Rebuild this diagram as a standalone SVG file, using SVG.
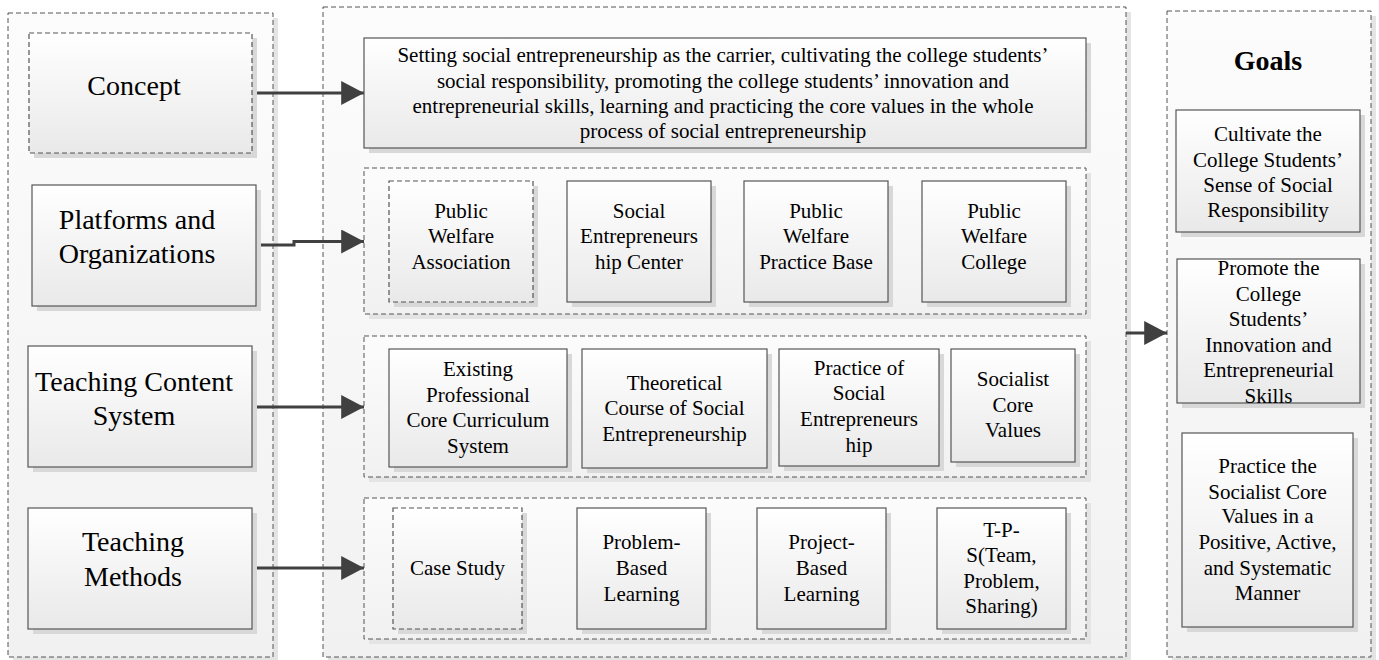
<svg xmlns="http://www.w3.org/2000/svg" width="1379" height="660" viewBox="0 0 1379 660">
<defs>
<linearGradient id="gBox" x1="0" y1="0" x2="0" y2="1">
<stop offset="0" stop-color="#ffffff"/>
<stop offset="1" stop-color="#e9e9e9"/>
</linearGradient>
<linearGradient id="gCont" x1="0" y1="0" x2="0" y2="1">
<stop offset="0" stop-color="#fcfcfc"/>
<stop offset="1" stop-color="#f1f1f1"/>
</linearGradient>
<marker id="ah" markerWidth="8" markerHeight="8" refX="7.6" refY="4" orient="auto" markerUnits="strokeWidth">
<path d="M0,0 L7.6,4 L0,8 Z" fill="#404040"/>
</marker>
</defs>
<style>
.cont{fill:url(#gCont);stroke:#555;stroke-width:1;stroke-dasharray:5 3}
.box{fill:url(#gBox);stroke:#555;stroke-width:1.2}
.dbox{fill:url(#gBox);stroke:#555;stroke-width:1.2;stroke-dasharray:5 3}
.sh{fill:#d8d8d8}
.csh{fill:#e4e4e4}
text{font-family:"Liberation Serif","Times New Roman",serif;fill:#000;text-anchor:middle}
.big{font-size:28px}
.sm{font-size:21px}
.bold{font-weight:bold}
.conn{fill:none;stroke:#404040;stroke-width:3;marker-end:url(#ah)}
</style>
<rect width="1379" height="660" fill="#ffffff"/>

<g id="containers">
<rect class="csh" x="13" y="18" width="265" height="644"/>
<rect class="cont" x="8" y="13" width="265" height="644"/>
<rect class="csh" x="328" y="12" width="803" height="650"/>
<rect class="cont" x="323" y="7" width="803" height="650"/>
<rect class="csh" x="1172" y="16" width="204" height="646"/>
<rect class="cont" x="1167" y="11" width="204" height="646"/>
<rect class="csh" x="369" y="173" width="722" height="146"/>
<rect class="cont" x="364" y="168" width="722" height="146"/>
<rect class="csh" x="369" y="341" width="722" height="141"/>
<rect class="cont" x="364" y="336" width="722" height="141"/>
<rect class="csh" x="369" y="503" width="722" height="141"/>
<rect class="cont" x="364" y="498" width="722" height="141"/>
</g>

<g id="connectors">
<path class="conn" d="M252,93 L364,93"/>
<path class="conn" d="M256,245 L294,245 L294,241.5 L364,241.5"/>
<path class="conn" d="M252,407 L364,407"/>
<path class="conn" d="M252,568 L364,568"/>
<path class="conn" d="M1126,333 L1167,333"/>
</g>

<g id="concept">
<rect class="sh" x="34" y="38" width="223" height="120"/>
<rect class="dbox" x="29" y="33" width="223" height="120"/>
<text class="big" x="134" y="95">Concept</text>
</g>
<g id="platforms">
<rect class="sh" x="37" y="190" width="224" height="121"/>
<rect class="box" x="32" y="185" width="224" height="121"/>
<text class="big" x="137" y="229">Platforms and</text>
<text class="big" x="137" y="263">Organizations</text>
</g>
<g id="teaching-content">
<rect class="sh" x="33" y="351" width="224" height="121"/>
<rect class="box" x="28" y="346" width="224" height="121"/>
<text class="big" x="134" y="391">Teaching Content</text>
<text class="big" x="134" y="425">System</text>
</g>
<g id="teaching-methods">
<rect class="sh" x="33" y="513" width="224" height="121"/>
<rect class="box" x="28" y="508" width="224" height="121"/>
<text class="big" x="133" y="551">Teaching</text>
<text class="big" x="133" y="586">Methods</text>
</g>

<g id="concept-text">
<rect class="sh" x="369" y="43" width="722" height="110"/>
<rect class="box" x="364" y="38" width="722" height="110"/>
<text class="sm" x="723" y="62">Setting social entrepreneurship as the carrier, cultivating the college students’</text>
<text class="sm" x="723" y="88">social responsibility, promoting the college students’ innovation and</text>
<text class="sm" x="723" y="113">entrepreneurial skills, learning and practicing the core values in the whole</text>
<text class="sm" x="723" y="138">process of social entrepreneurship</text>
</g>

<g id="public-welfare-association">
<rect class="sh" x="394" y="186" width="144" height="121"/>
<rect class="dbox" x="389" y="181" width="144" height="121"/>
<text class="sm" x="461" y="218">Public</text>
<text class="sm" x="461" y="243">Welfare</text>
<text class="sm" x="461" y="269">Association</text>
</g>
<g id="social-entrepreneurship-center">
<rect class="sh" x="572" y="186" width="144" height="121"/>
<rect class="box" x="567" y="181" width="144" height="121"/>
<text class="sm" x="639" y="218">Social</text>
<text class="sm" x="639" y="243">Entrepreneurs</text>
<text class="sm" x="639" y="269">hip Center</text>
</g>
<g id="public-welfare-practice-base">
<rect class="sh" x="749" y="186" width="144" height="121"/>
<rect class="box" x="744" y="181" width="144" height="121"/>
<text class="sm" x="816" y="218">Public</text>
<text class="sm" x="816" y="243">Welfare</text>
<text class="sm" x="816" y="269">Practice Base</text>
</g>
<g id="public-welfare-college">
<rect class="sh" x="927" y="186" width="144" height="121"/>
<rect class="box" x="922" y="181" width="144" height="121"/>
<text class="sm" x="994" y="218">Public</text>
<text class="sm" x="994" y="243">Welfare</text>
<text class="sm" x="994" y="269">College</text>
</g>

<g id="existing-curriculum">
<rect class="sh" x="394" y="354" width="178" height="118"/>
<rect class="box" x="389" y="349" width="178" height="118"/>
<text class="sm" x="478" y="376">Existing</text>
<text class="sm" x="478" y="402">Professional</text>
<text class="sm" x="478" y="427">Core Curriculum</text>
<text class="sm" x="478" y="453">System</text>
</g>
<g id="theoretical-course">
<rect class="sh" x="587" y="354" width="185" height="119"/>
<rect class="box" x="582" y="349" width="185" height="119"/>
<text class="sm" x="674.5" y="390">Theoretical</text>
<text class="sm" x="674.5" y="415">Course of Social</text>
<text class="sm" x="674.5" y="441">Entrepreneurship</text>
</g>
<g id="practice-social-entrepreneurship">
<rect class="sh" x="784" y="354" width="160" height="117"/>
<rect class="box" x="779" y="349" width="160" height="117"/>
<text class="sm" x="859" y="375">Practice of</text>
<text class="sm" x="859" y="400">Social</text>
<text class="sm" x="859" y="426">Entrepreneurs</text>
<text class="sm" x="859" y="452">hip</text>
</g>
<g id="socialist-core-values">
<rect class="sh" x="956" y="354" width="124" height="113"/>
<rect class="box" x="951" y="349" width="124" height="113"/>
<text class="sm" x="1013" y="386">Socialist</text>
<text class="sm" x="1013" y="412">Core</text>
<text class="sm" x="1013" y="437">Values</text>
</g>

<g id="case-study">
<rect class="sh" x="398" y="513" width="129" height="121"/>
<rect class="dbox" x="393" y="508" width="129" height="121"/>
<text class="sm" x="457.5" y="575">Case Study</text>
</g>
<g id="problem-based-learning">
<rect class="sh" x="582" y="513" width="129" height="121"/>
<rect class="box" x="577" y="508" width="129" height="121"/>
<text class="sm" x="641.5" y="549">Problem-</text>
<text class="sm" x="641.5" y="575">Based</text>
<text class="sm" x="641.5" y="601">Learning</text>
</g>
<g id="project-based-learning">
<rect class="sh" x="762" y="513" width="129" height="121"/>
<rect class="box" x="757" y="508" width="129" height="121"/>
<text class="sm" x="821.5" y="549">Project-</text>
<text class="sm" x="821.5" y="575">Based</text>
<text class="sm" x="821.5" y="601">Learning</text>
</g>
<g id="tps">
<rect class="sh" x="942" y="513" width="129" height="121"/>
<rect class="box" x="937" y="508" width="129" height="121"/>
<text class="sm" x="1001.5" y="537">T-P-</text>
<text class="sm" x="1001.5" y="562">S(Team,</text>
<text class="sm" x="1001.5" y="588">Problem,</text>
<text class="sm" x="1001.5" y="613">Sharing)</text>
</g>

<g id="goals-title">
<text class="big bold" x="1268" y="70">Goals</text>
</g>
<g id="goal-responsibility">
<rect class="sh" x="1181" y="115" width="184" height="122"/>
<rect class="box" x="1176" y="110" width="184" height="122"/>
<text class="sm" x="1268" y="141">Cultivate the</text>
<text class="sm" x="1268" y="167">College Students’</text>
<text class="sm" x="1268" y="192">Sense of Social</text>
<text class="sm" x="1268" y="217">Responsibility</text>
</g>
<g id="goal-innovation">
<rect class="sh" x="1182" y="264" width="183" height="144"/>
<rect class="box" x="1177" y="259" width="183" height="144"/>
<text class="sm" x="1268.5" y="275">Promote the</text>
<text class="sm" x="1268.5" y="300.5">College</text>
<text class="sm" x="1268.5" y="326">Students’</text>
<text class="sm" x="1268.5" y="351.5">Innovation and</text>
<text class="sm" x="1268.5" y="377">Entrepreneurial</text>
<text class="sm" x="1268.5" y="402.5">Skills</text>
</g>
<g id="goal-values">
<rect class="sh" x="1187" y="438" width="171" height="194"/>
<rect class="box" x="1182" y="433" width="171" height="194"/>
<text class="sm" x="1267.5" y="473">Practice the</text>
<text class="sm" x="1267.5" y="499">Socialist Core</text>
<text class="sm" x="1267.5" y="523">Values in a</text>
<text class="sm" x="1267.5" y="549">Positive, Active,</text>
<text class="sm" x="1267.5" y="575">and Systematic</text>
<text class="sm" x="1267.5" y="600">Manner</text>
</g>
</svg>
